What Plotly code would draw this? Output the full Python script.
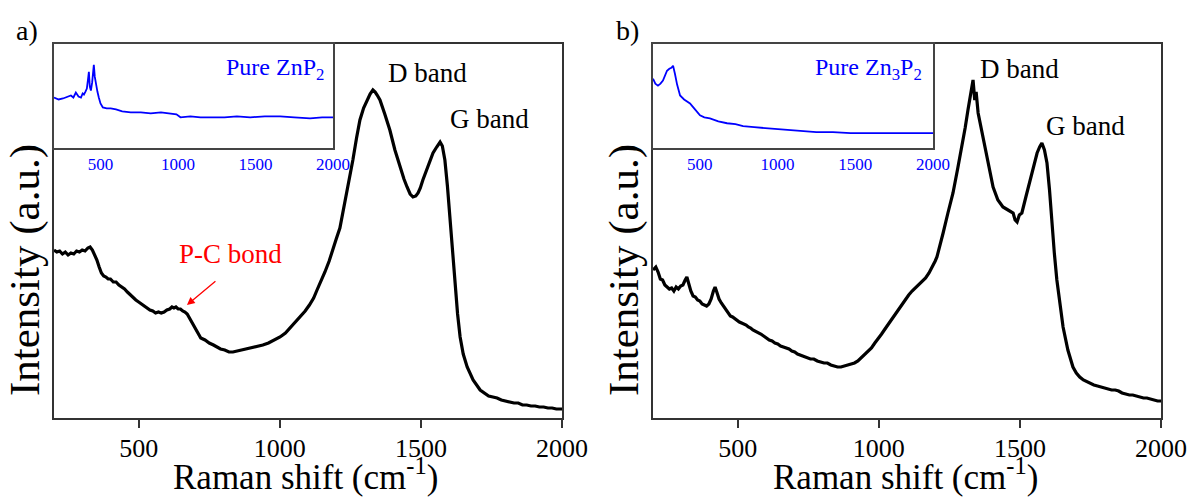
import plotly.graph_objects as go

# ---------------- data ----------------
# a) main spectrum (ZnP2 / C composite)
a_shift = [200, 210, 220, 230, 240, 250, 260, 270, 280, 290, 300, 310, 320, 328, 336, 344, 352, 360, 368, 376,
           384, 392, 400, 410, 420, 430, 440, 450, 460, 470, 480, 490, 500, 510, 520, 530, 540, 550, 560, 570,
           580, 590, 600, 610, 618, 625, 632, 640, 648, 656, 664, 672, 680, 688, 696, 704, 712, 720,
           735, 750, 765, 778, 790, 805, 820, 834, 850, 870, 895, 919, 940, 960, 980, 1001, 1020, 1040, 1055,
           1072, 1090, 1105, 1120, 1132, 1147, 1160, 1175, 1189, 1200, 1213, 1222, 1231, 1245, 1259, 1272, 1284,
           1297, 1309, 1320, 1330, 1338, 1345, 1355, 1372, 1390, 1408, 1426, 1440, 1451, 1462, 1472, 1482, 1490,
           1498, 1507, 1525, 1543, 1556, 1568, 1576, 1585, 1594, 1603, 1612, 1621, 1630, 1639, 1650, 1664, 1685,
           1710, 1725, 1740, 1755, 1770, 1785, 1800, 1815, 1830, 1845, 1860, 1875, 1890, 1905, 1920, 1935, 1950,
           1965, 1980, 2000]
a_int = [168, 166, 167, 164, 166, 163, 165, 164, 167, 166, 168, 167, 170, 171, 168, 163, 158, 151, 145, 142,
         141, 139, 139, 136, 136, 133, 131, 129, 126, 123, 121, 118, 116, 114, 112, 110, 108, 107, 105, 106,
         105, 106, 108, 109, 111, 110, 111, 109, 109, 107, 106, 104, 100, 96, 91, 87, 83, 80,
         78, 75, 73, 71, 69, 68, 66, 66, 67, 68, 70, 71, 73, 75, 78, 81, 85, 91, 96,
         101, 107, 113, 120, 128, 137, 146, 157, 168, 179, 190, 203, 215, 237, 258, 280, 298,
         310, 318, 324, 328, 326, 323, 318, 304, 288, 268, 251, 239, 231, 224, 221, 222, 225,
         230, 238, 252, 265, 271, 276, 272, 258, 232, 198, 165, 131, 104, 81, 64, 51, 38,
         28, 25, 22, 21, 20, 18, 17, 16, 15, 15, 13, 13, 12, 12, 11, 11, 10,
         10, 9, 9]

# b) main spectrum (Zn3P2 / C composite)
b_shift = [200, 210, 218, 226, 234, 242, 250, 258, 266, 274, 282, 290, 298, 306, 314, 320, 326, 334, 342, 350,
           358, 366, 374, 382, 390, 398, 406, 414, 420, 426, 434, 442, 450, 458, 466, 474, 482, 490, 498, 506,
           514, 522, 530, 538, 546, 554, 562, 572, 582, 592, 602, 612, 622, 632, 642, 652, 662, 672, 682, 692,
           702, 712, 722, 734, 746, 758, 770, 782, 794, 806, 818, 830, 842, 854, 866, 878, 890, 902, 914, 926,
           938, 950, 962, 974, 986, 998, 1010, 1022, 1034, 1046, 1058, 1070, 1082, 1094, 1106, 1118, 1130, 1142,
           1154, 1166, 1178, 1190, 1200, 1206, 1217, 1228, 1245, 1263, 1280, 1295, 1306, 1316, 1325, 1334, 1340,
           1345, 1352, 1364, 1377, 1390, 1405, 1422, 1440, 1458, 1476, 1483, 1490, 1498, 1507, 1522, 1536, 1550,
           1561, 1570, 1578, 1587, 1596, 1605, 1614, 1622, 1631, 1642, 1653, 1670, 1688, 1700, 1712, 1725, 1738,
           1750, 1762, 1775, 1788, 1800, 1812, 1825, 1838, 1850, 1862, 1875, 1888, 1900, 1912, 1925, 1938, 1950,
           1962, 1975, 1988, 2000]
b_int = [148, 151, 146, 139, 138, 133, 131, 129, 130, 127, 131, 129, 132, 133, 138, 141, 135, 127, 122, 121,
         118, 117, 114, 113, 112, 114, 119, 127, 131, 126, 119, 115, 112, 109, 105, 102, 101, 99, 98, 96,
         95, 94, 93, 91, 90, 88, 87, 85, 84, 82, 80, 78, 77, 75, 74, 72, 71, 70, 69, 67,
         66, 64, 63, 62, 61, 59, 59, 57, 56, 55, 55, 53, 52, 51, 51, 52, 53, 54, 55, 57,
         60, 63, 66, 70, 75, 79, 84, 89, 94, 99, 104, 109, 114, 118, 123, 127, 130, 133,
         136, 140, 145, 151, 157, 161, 172, 185, 205, 225, 250, 271, 290, 308, 322, 338, 318,
         326, 305, 289, 271, 252, 231, 218, 211, 208, 205, 198, 196, 203, 205, 222, 238, 253,
         265, 271, 275, 268, 255, 228, 191, 165, 138, 112, 91, 68, 51, 45, 41, 38, 36,
         35, 33, 32, 31, 30, 29, 28, 28, 27, 25, 24, 23, 23, 22, 21, 20, 20,
         19, 18, 17, 17]

# inset a) pure ZnP2
ia_shift = [200, 230, 258, 285, 309, 325, 341, 358, 374, 385, 393, 403, 412, 420, 425, 431, 438, 446, 452, 457,
            463, 470, 480, 489, 500, 515, 540, 566, 600, 640, 695, 760, 824, 890, 952, 990, 1016, 1080, 1145,
            1220, 1300, 1380, 1466, 1560, 1659, 1750, 1852, 1930, 2000]
ia_int = [51, 49, 50, 52, 53, 51, 56, 52, 51, 55, 54, 57, 60, 70, 77, 62, 58, 66, 80, 84,
          72, 65, 57, 51, 45, 41, 40, 40, 39, 37, 36, 36, 35, 36, 35, 34, 31, 32, 31,
          31, 31, 32, 31, 32, 32, 31, 30, 31, 31]

# inset b) pure Zn3P2
ib_shift = [200, 215, 232, 248, 264, 278, 290, 305, 318, 329, 335, 341, 355, 374, 400, 438, 470, 502, 530,
            566, 620, 676, 730, 779, 850, 933, 1040, 1145, 1250, 1357, 1470, 1576, 1680, 1788, 1900, 2000]
ib_int = [70, 65, 63, 65, 68, 74, 78, 80, 81, 83, 80, 75, 64, 53, 49, 45, 39, 33, 31,
          30, 27, 25, 24, 22, 21, 20, 18, 17, 16, 16, 15, 15, 15, 15, 15, 15]

main_ticks = [500, 1000, 1500, 2000]
inset_ticks = [500, 1000, 1500, 2000]

W, H = 1195, 504
FONT = "Liberation Serif, Times New Roman, serif"


def fx(p):
    return p / W


def fy(p):
    return 1 - p / H


fig = go.Figure()

fig.add_trace(go.Scatter(x=a_shift, y=a_int, mode="lines", line=dict(color="black", width=3.2),
                         xaxis="x", yaxis="y", showlegend=False))
fig.add_trace(go.Scatter(x=b_shift, y=b_int, mode="lines", line=dict(color="black", width=3.2),
                         xaxis="x2", yaxis="y2", showlegend=False))
fig.add_trace(go.Scatter(x=ia_shift, y=ia_int, mode="lines", line=dict(color="#0000ff", width=1.8),
                         xaxis="x3", yaxis="y3", showlegend=False))
fig.add_trace(go.Scatter(x=ib_shift, y=ib_int, mode="lines", line=dict(color="#0000ff", width=1.8),
                         xaxis="x4", yaxis="y4", showlegend=False))

main_x = dict(range=[200, 2000], tickvals=main_ticks, ticks="outside", ticklen=8, tickwidth=1.5,
              tickcolor="#333", showline=True, linecolor="#333", linewidth=2, mirror=True,
              showgrid=False, zeroline=False, ticklabelstandoff=-2,
              tickfont=dict(family=FONT, size=26, color="black"))
main_y = dict(range=[0, 374], showticklabels=False, ticks="", showline=True, linecolor="#333",
              linewidth=2, mirror=True, showgrid=False, zeroline=False)
inset_x = dict(range=[200, 2000], tickvals=inset_ticks, ticks="", showline=True, linecolor="#444",
               linewidth=1.5, mirror=True, showgrid=False, zeroline=False, ticklabelstandoff=0,
               tickfont=dict(family=FONT, size=17, color="#0000ff"))
inset_y = dict(range=[0, 105], showticklabels=False, ticks="", showline=True, linecolor="#444",
               linewidth=1.5, mirror=True, showgrid=False, zeroline=False)

ytop_main = fy(44)
ybot_main = fy(418)
ybot_inset = fy(148)

fig.update_layout(
    width=W, height=H,
    margin=dict(l=0, r=0, t=0, b=0, autoexpand=False),
    paper_bgcolor="white", plot_bgcolor="rgba(0,0,0,0)",
    xaxis=dict(domain=[fx(54), fx(562)], anchor="y", **main_x),
    yaxis=dict(domain=[ybot_main, ytop_main], anchor="x", **main_y),
    xaxis2=dict(domain=[fx(653), fx(1161)], anchor="y2", **main_x),
    yaxis2=dict(domain=[ybot_main, ytop_main], anchor="x2", **main_y),
    xaxis3=dict(domain=[fx(54), fx(333)], anchor="y3", **inset_x),
    yaxis3=dict(domain=[ybot_inset, ytop_main], anchor="x3", **inset_y),
    xaxis4=dict(domain=[fx(653), fx(933)], anchor="y4", **inset_x),
    yaxis4=dict(domain=[ybot_inset, ytop_main], anchor="x4", **inset_y),
)


def txt(x, y, s, size, color="black", xanchor="center", yanchor="middle", angle=0):
    fig.add_annotation(x=fx(x), y=fy(y), xref="paper", yref="paper", text=s, showarrow=False,
                       xanchor=xanchor, yanchor=yanchor, textangle=angle,
                       font=dict(family=FONT, size=size, color=color))


# panel letters
txt(27, 30, "a)", 28)
txt(627, 30, "b)", 28)
# axis titles
txt(25, 270, "Intensity (a.u.)", 43, angle=-90)
txt(624, 270, "Intensity (a.u.)", 43, angle=-90)
txt(305, 474, "Raman shift (cm<sup>-1</sup>)", 35)
txt(905, 474, "Raman shift (cm<sup>-1</sup>)", 35)
# band labels
txt(427, 73, "D band", 27)
txt(489, 119, "G band", 27)
txt(1019, 69, "D band", 27)
txt(1085, 126, "G band", 27)
txt(230, 254, "P-C bond", 27, color="red")
# inset labels
txt(326, 69, "Pure ZnP<sub>2</sub>", 24, color="#0000ff", xanchor="right")
txt(924, 69, "Pure Zn<sub>3</sub>P<sub>2</sub>", 24, color="#0000ff", xanchor="right")

# P-C bond arrow
fig.add_annotation(x=671, y=113, xref="x", yref="y", text="", showarrow=True,
                   ax=30, ay=-25, arrowcolor="red", arrowhead=2, arrowsize=1.2, arrowwidth=1.3)

fig.write_html("out.html", config={"displayModeBar": False},
               post_script="document.body.style.margin='0';document.body.style.overflow='hidden';")
